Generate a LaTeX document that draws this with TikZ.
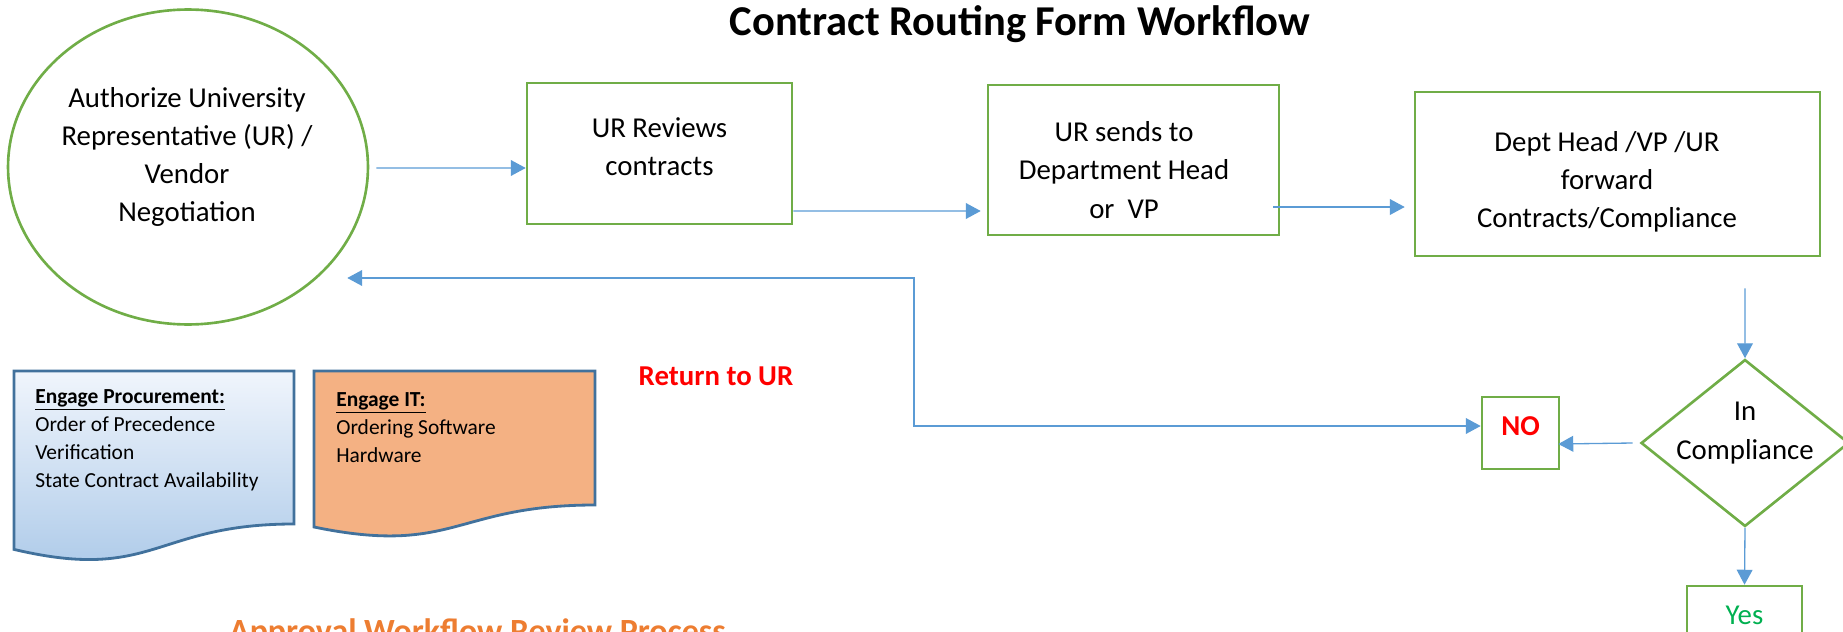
\documentclass[tikz,border=0pt]{standalone}
\usepackage{fontspec}
\setmainfont{Carlito}
\usetikzlibrary{shapes.geometric,arrows.meta}

\definecolor{boxgreen}{RGB}{112,173,71}
\definecolor{flowblue}{RGB}{91,155,213}
\definecolor{docblue}{RGB}{65,113,156}
\definecolor{docorange}{RGB}{244,177,131}
\definecolor{noRed}{RGB}{255,0,0}
\definecolor{yesgreen}{RGB}{0,176,80}
\definecolor{subOrange}{RGB}{237,125,49}

\tikzset{
  proc/.style={rectangle,draw=boxgreen,line width=1.5pt,inner sep=0pt},
  boxtext/.style={align=center,inner sep=0pt,font=\fontsize{16.4}{21.8}\selectfont},
  flow/.style={draw=flowblue,line width=0.75pt,-{Triangle[length=8.5pt,width=9pt]}},
  doc/.style={draw=docblue,line width=1.6pt},
  doctext/.style={anchor=north west,inner sep=0pt,align=left,font=\fontsize{12.2}{15.9}\selectfont}
}

\begin{document}
\begin{tikzpicture}[x=0.02cm,y=-0.02cm]
  \useasboundingbox (0,0) rectangle (1843,632);

  \node[font=\bfseries\fontsize{24.2}{29}\selectfont,anchor=base] (title) at (1020,35) {Contract Routing Form Workflow};

  % main row
  \node[ellipse,draw=boxgreen,line width=1.5pt,minimum width=7.2cm,minimum height=6.3cm,inner sep=0pt] (auth) at (188,167) {};
  \node[boxtext] (authtext) at (187,157) {Authorize University\\Representative (UR) /\\Vendor\\Negotiation};
  \node[proc,minimum width=5.3cm,minimum height=2.82cm] (rev) at (659.5,153.5) {};
  \node[boxtext] (revtext) at (659.5,147) {UR Reviews\\contracts};
  \node[proc,minimum width=5.82cm,minimum height=3cm] (send) at (1133.5,160) {};
  \node[boxtext] (sendtext) at (1124,170) {UR sends to\\Department Head\\or\ \ VP};
  \node[proc,minimum width=8.1cm,minimum height=3.28cm] (fwd) at (1617.5,174) {};
  \node[boxtext] (fwdtext) at (1607,182) {Dept Head /VP /UR\\forward\\Contracts/Compliance};

  % decision
  \node[diamond,draw=boxgreen,line width=1.5pt,minimum width=4.16cm,minimum height=3.34cm,inner sep=0pt] (comp) at (1745,443) {};
  \node[boxtext] (comptext) at (1745,433) {In\\Compliance};
  \node[proc,minimum width=1.54cm,minimum height=1.44cm] (no) at (1520.5,433) {};
  \node[boxtext,text=noRed,font=\bfseries\fontsize{16.4}{21.8}\selectfont] (notext) at (1520.5,426) {NO};
  \node[proc,minimum width=2.3cm,minimum height=1.16cm] (yes) at (1744.5,615) {};
  \node[boxtext,text=yesgreen] (yestext) at (1744.5,615) {Yes};

  \node[text=noRed,font=\bfseries\fontsize{16.4}{20}\selectfont,anchor=base] (ret) at (716,385) {Return to UR};

  % document shapes
  \path[doc,top color={rgb,255:red,240;green,245;blue,252},bottom color={rgb,255:red,170;green,200;blue,232}] (14,371) -- (294,371) -- (294,524) .. controls (154,524) and (154,582.5) .. (14,549.4) -- cycle;
  \node[doctext] (procnote) at (35,389) {\underline{\textbf{Engage Procurement:}}\\Order of Precedence\\Verification\\State Contract Availability};
  \path[doc,fill=docorange] (314,371) -- (595,371) -- (595,505) .. controls (454.5,505) and (454.5,556) .. (314,527) -- cycle;
  \node[doctext] (itnote) at (336,392) {\underline{\textbf{Engage IT:}}\\Ordering Software\\Hardware};

  \node[text=subOrange,font=\bfseries\fontsize{19.3}{23}\selectfont,anchor=base west] (sub) at (223,642) {Approval Workflow Review Process};

  % connectors
  \draw[flow] ([shift={(7,1)}]auth.east) -- ([shift={(0,14.5)}]rev.west);
  \draw[flow] ([shift={(0,57.5)}]rev.east) -- ([shift={(-6,51)}]send.west);
  \draw[flow] ([shift={(-7,47)}]send.east) -- ([shift={(-9,33)}]fwd.west);
  \draw[flow] ([shift={(127.5,31)}]fwd.south) -- (comp.north);
  \draw[flow] ([shift={(-7,0)}]comp.west) -- ([shift={(-2,11)}]no.east);
  \draw[flow] (comp.south) -- (yes.north);

  % back to the UR
  \coordinate (bend) at (914,278);
  \draw[flow,{Triangle[length=8.5pt,width=9pt]}-{Triangle[length=8.5pt,width=9pt]}] ([shift={(-22,111)}]auth.east) -- (bend) |- ([shift={(0,-7)}]no.west);
\end{tikzpicture}
\end{document}
